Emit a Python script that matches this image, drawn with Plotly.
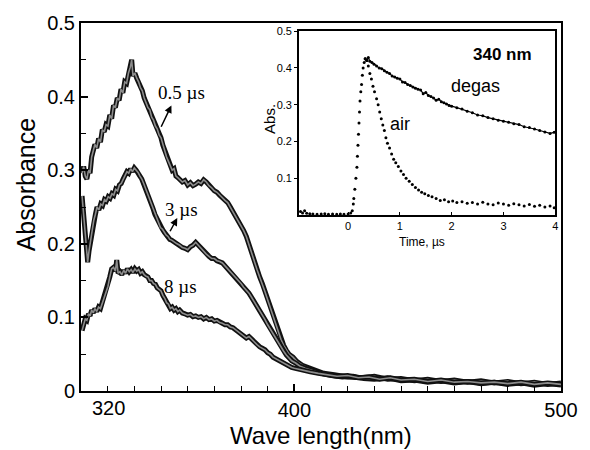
import plotly.graph_objects as go

# ---------------- main spectra (wavelength nm, absorbance) ----------------
wl_05 = [320.4, 321.0, 321.6, 322.2, 322.8, 323.4, 324.0, 324.6, 325.2, 325.9, 326.6, 327.3, 328.0, 328.7,
         329.4, 330.1, 330.8, 331.5, 332.2, 332.9, 333.6, 334.3, 335.0, 335.7, 336.4, 337.1, 337.8, 338.5,
         339.0, 339.5, 340.2, 340.9, 341.6, 342.3, 343.0, 343.7, 344.4, 345.1, 345.8, 346.5, 347.2, 347.9,
         348.6, 349.3, 350.0, 350.7, 351.4, 352.1, 352.8, 353.5, 354.2, 354.9, 355.6, 356.3, 357.0, 358.0,
         359.0, 360.0, 361.0, 362.0, 363.0, 364.0, 365.0, 366.0, 367.0, 368.0, 369.0, 370.0, 371.0, 372.0,
         373.0, 374.0, 375.0, 376.0, 377.0, 378.0, 379.0, 380.0, 381.0, 382.0, 383.0, 384.0, 385.0, 386.0,
         387.0, 388.0, 389.0, 390.0, 391.0, 392.0, 393.0, 394.0, 395.0, 396.0, 397.0, 398.0, 399.5, 401.0,
         403.0, 405.0, 408.0, 411.0, 415.0, 420.0, 425.0, 430.0, 435.0, 440.0, 445.0, 450.0, 455.0, 460.0,
         465.0, 470.0, 475.0, 480.0, 485.0, 490.0, 495.0, 500.0]
abs_05 = [0.296, 0.305, 0.292, 0.288, 0.300, 0.296, 0.318, 0.325, 0.335, 0.330, 0.343, 0.338, 0.355, 0.352,
          0.362, 0.360, 0.375, 0.370, 0.388, 0.385, 0.398, 0.395, 0.410, 0.405, 0.420, 0.418, 0.432, 0.440,
          0.450, 0.428, 0.432, 0.425, 0.420, 0.412, 0.408, 0.398, 0.392, 0.385, 0.382, 0.372, 0.368, 0.360,
          0.356, 0.348, 0.344, 0.334, 0.328, 0.318, 0.312, 0.306, 0.300, 0.302, 0.292, 0.290, 0.288, 0.284,
          0.286, 0.280, 0.283, 0.279, 0.281, 0.284, 0.282, 0.287, 0.284, 0.279, 0.276, 0.272, 0.270, 0.266,
          0.263, 0.259, 0.256, 0.250, 0.244, 0.238, 0.232, 0.226, 0.218, 0.210, 0.198, 0.188, 0.176, 0.165,
          0.155, 0.146, 0.135, 0.124, 0.113, 0.102, 0.090, 0.080, 0.070, 0.062, 0.055, 0.050, 0.046, 0.040,
          0.035, 0.032, 0.027, 0.024, 0.022, 0.019, 0.018, 0.020, 0.016, 0.017, 0.014, 0.016, 0.013, 0.015,
          0.012, 0.014, 0.011, 0.013, 0.010, 0.012, 0.009, 0.011]

wl_3 = [320.4, 321.0, 321.5, 322.0, 322.5, 323.0, 323.6, 324.2, 324.8, 325.4, 326.0, 326.7, 327.4, 328.1,
        328.8, 329.5, 330.2, 330.9, 331.6, 332.3, 333.0, 333.7, 334.4, 335.1, 335.8, 336.5, 337.2, 337.9,
        338.6, 339.3, 340.0, 340.7, 341.4, 342.1, 342.8, 343.5, 344.2, 344.9, 345.6, 346.3, 347.0, 347.7,
        348.4, 349.1, 349.8, 350.5, 351.2, 351.9, 352.6, 353.3, 354.0, 355.0, 356.0, 357.0, 358.0, 359.0,
        360.0, 361.0, 362.0, 363.0, 364.0, 365.0, 366.0, 367.0, 368.0, 369.0, 370.0, 371.0, 372.0, 373.0,
        374.0, 375.0, 376.0, 377.0, 378.0, 379.0, 380.0, 381.0, 382.0, 383.0, 384.0, 385.0, 386.0, 387.0,
        388.0, 389.0, 390.0, 391.0, 392.0, 393.0, 394.0, 395.0, 396.0, 397.0, 398.0, 399.0, 400.5, 402.0,
        404.0, 407.0, 410.0, 414.0, 418.0, 422.0, 426.0, 430.0, 435.0, 440.0, 445.0, 450.0, 455.0, 460.0,
        465.0, 470.0, 475.0, 480.0, 485.0, 490.0, 495.0, 500.0]
abs_3 = [0.265, 0.240, 0.215, 0.190, 0.175, 0.190, 0.205, 0.220, 0.232, 0.240, 0.250, 0.246, 0.254, 0.252,
         0.260, 0.258, 0.264, 0.262, 0.268, 0.266, 0.274, 0.272, 0.280, 0.282, 0.288, 0.292, 0.298, 0.296,
         0.302, 0.298, 0.303, 0.300, 0.297, 0.292, 0.288, 0.282, 0.276, 0.268, 0.262, 0.255, 0.248, 0.240,
         0.234, 0.228, 0.222, 0.220, 0.216, 0.212, 0.210, 0.206, 0.205, 0.202, 0.200, 0.198, 0.195, 0.194,
         0.192, 0.196, 0.198, 0.202, 0.198, 0.193, 0.190, 0.186, 0.183, 0.180, 0.180, 0.177, 0.176, 0.174,
         0.170, 0.166, 0.162, 0.159, 0.155, 0.150, 0.146, 0.141, 0.137, 0.133, 0.127, 0.121, 0.116, 0.110,
         0.103, 0.097, 0.090, 0.084, 0.078, 0.071, 0.065, 0.060, 0.054, 0.049, 0.045, 0.041, 0.038, 0.034,
         0.031, 0.027, 0.024, 0.021, 0.019, 0.020, 0.017, 0.016, 0.018, 0.014, 0.015, 0.012, 0.014, 0.011,
         0.013, 0.010, 0.012, 0.009, 0.011, 0.008, 0.010, 0.008]

wl_8 = [320.4, 321.0, 321.6, 322.2, 322.8, 323.4, 324.0, 324.6, 325.2, 325.9, 326.6, 327.3, 328.0, 328.7,
        329.4, 330.1, 330.8, 331.5, 332.2, 332.9, 333.4, 333.9, 334.6, 335.3, 336.0, 336.7, 337.4, 338.1,
        338.8, 339.5, 340.2, 340.9, 341.6, 342.3, 343.0, 343.7, 344.4, 345.1, 345.8, 346.5, 347.2, 347.9,
        348.6, 349.3, 350.0, 350.7, 351.4, 352.1, 352.8, 353.5, 354.2, 354.9, 355.6, 356.3, 357.0, 358.0,
        359.0, 360.0, 361.0, 362.0, 363.0, 364.0, 365.0, 366.0, 367.0, 368.0, 369.0, 370.0, 371.0, 372.0,
        373.0, 374.0, 375.0, 376.0, 377.0, 378.0, 379.0, 380.0, 381.0, 382.0, 383.0, 384.0, 385.0, 386.0,
        387.0, 388.0, 389.0, 390.0, 391.0, 392.0, 393.0, 394.0, 395.0, 396.0, 397.0, 398.0, 399.0, 400.0,
        402.0, 404.0, 406.0, 409.0, 412.0, 416.0, 420.0, 424.0, 428.0, 432.0, 436.0, 440.0, 445.0, 450.0,
        455.0, 460.0, 465.0, 470.0, 475.0, 480.0, 485.0, 490.0, 495.0, 500.0]
abs_8 = [0.082, 0.090, 0.098, 0.096, 0.105, 0.102, 0.110, 0.106, 0.112, 0.108, 0.114, 0.112, 0.120, 0.128,
         0.134, 0.142, 0.155, 0.166, 0.168, 0.163, 0.178, 0.160, 0.162, 0.158, 0.164, 0.160, 0.166, 0.162,
         0.165, 0.161, 0.166, 0.163, 0.165, 0.160, 0.162, 0.158, 0.156, 0.155, 0.150, 0.150, 0.146, 0.145,
         0.140, 0.138, 0.136, 0.130, 0.126, 0.120, 0.118, 0.112, 0.114, 0.110, 0.112, 0.108, 0.110, 0.106,
         0.105, 0.103, 0.104, 0.101, 0.102, 0.100, 0.101, 0.098, 0.100, 0.097, 0.098, 0.095, 0.096, 0.093,
         0.092, 0.090, 0.090, 0.087, 0.086, 0.083, 0.080, 0.077, 0.074, 0.072, 0.074, 0.070, 0.066, 0.063,
         0.060, 0.058, 0.056, 0.052, 0.050, 0.046, 0.044, 0.041, 0.039, 0.037, 0.035, 0.034, 0.032, 0.031,
         0.029, 0.027, 0.026, 0.024, 0.022, 0.020, 0.021, 0.018, 0.019, 0.016, 0.018, 0.015, 0.016, 0.013,
         0.015, 0.012, 0.013, 0.011, 0.012, 0.010, 0.012, 0.009, 0.011, 0.009]

# ---------------- inset kinetics at 340 nm (time us, absorbance) ----------------
t_air = [-0.92, -0.88, -0.84, -0.80, -0.74, -0.68, -0.60, -0.52, -0.45, -0.38, -0.30, -0.22, -0.15, -0.08,
         0.00, 0.05, 0.08, 0.10, 0.11, 0.13, 0.15, 0.17, 0.18, 0.19, 0.20, 0.21, 0.22, 0.23, 0.245, 0.26,
         0.275, 0.29, 0.31, 0.33, 0.36, 0.39, 0.42, 0.45, 0.48, 0.51, 0.55, 0.58, 0.61, 0.64, 0.67, 0.70,
         0.73, 0.76, 0.80, 0.84, 0.88, 0.92, 0.97, 1.02, 1.07, 1.12, 1.18, 1.24, 1.30, 1.36, 1.42, 1.48,
         1.55, 1.62, 1.70, 1.78, 1.86, 1.94, 2.02, 2.10, 2.20, 2.30, 2.40, 2.50, 2.60, 2.70, 2.80, 2.90,
         3.00, 3.10, 3.20, 3.30, 3.40, 3.50, 3.60, 3.70, 3.80, 3.90, 3.98]
a_air = [0.010, 0.006, 0.012, 0.005, 0.004, 0.003, 0.002, 0.003, 0.004, 0.002, 0.003, 0.002, 0.003, 0.002,
         0.003, 0.006, 0.012, 0.030, 0.045, 0.070, 0.100, 0.130, 0.160, 0.190, 0.220, 0.250, 0.280, 0.310,
         0.335, 0.355, 0.380, 0.400, 0.415, 0.425, 0.420, 0.405, 0.385, 0.370, 0.350, 0.335, 0.316, 0.300,
         0.280, 0.262, 0.245, 0.230, 0.210, 0.195, 0.182, 0.166, 0.152, 0.142, 0.132, 0.120, 0.110, 0.100,
         0.092, 0.083, 0.075, 0.068, 0.062, 0.058, 0.053, 0.050, 0.045, 0.040, 0.042, 0.036, 0.038, 0.034,
         0.036, 0.032, 0.034, 0.030, 0.035, 0.030, 0.028, 0.033, 0.030, 0.027, 0.031, 0.028, 0.025, 0.029,
         0.024, 0.027, 0.022, 0.025, 0.020]

t_degas = [0.33, 0.36, 0.39, 0.42, 0.46, 0.50, 0.55, 0.60, 0.65, 0.70, 0.75, 0.80, 0.85, 0.90, 0.95, 1.00,
           1.05, 1.10, 1.15, 1.20, 1.25, 1.30, 1.35, 1.40, 1.45, 1.50, 1.55, 1.60, 1.65, 1.70, 1.75, 1.80,
           1.85, 1.90, 1.95, 2.00, 2.10, 2.20, 2.30, 2.40, 2.50, 2.60, 2.70, 2.80, 2.90, 3.00, 3.10, 3.20,
           3.30, 3.40, 3.50, 3.60, 3.70, 3.80, 3.90, 3.98]
a_degas = [0.425, 0.420, 0.428, 0.418, 0.415, 0.410, 0.405, 0.400, 0.398, 0.392, 0.388, 0.385, 0.378, 0.375,
           0.372, 0.370, 0.362, 0.360, 0.355, 0.352, 0.348, 0.345, 0.342, 0.340, 0.330, 0.333, 0.325, 0.322,
           0.318, 0.312, 0.315, 0.308, 0.305, 0.302, 0.298, 0.296, 0.292, 0.288, 0.282, 0.278, 0.272, 0.270,
           0.265, 0.262, 0.258, 0.255, 0.252, 0.248, 0.246, 0.240, 0.238, 0.234, 0.230, 0.226, 0.222, 0.225]

main_xticks = [320, 400, 500]
main_xticktext = ["", "400", "500"]
main_yticks = [0, 0.1, 0.2, 0.3, 0.4, 0.5]
main_yticktext = ["0", "0.1", "0.2", "0.3", "0.4", "0.5"]
inset_xticks = [0, 1, 2, 3, 4]
inset_yticks = [0.1, 0.2, 0.3, 0.4, 0.5]

SANS = "Liberation Sans, Arial, sans-serif"
SERIF = "Liberation Serif, Times New Roman, serif"

fig = go.Figure()
for wl, ab in [(wl_05, abs_05), (wl_3, abs_3), (wl_8, abs_8)]:
    fig.add_trace(go.Scatter(x=wl, y=ab, mode="lines", line=dict(color="#111111", width=5),
                             showlegend=False, hoverinfo="skip"))
    fig.add_trace(go.Scatter(x=wl, y=ab, mode="lines", line=dict(color="#8c8c8c", width=1.6),
                             showlegend=False, hoverinfo="skip"))

fig.add_trace(go.Scatter(x=t_air, y=a_air, mode="markers", xaxis="x2", yaxis="y2",
                         marker=dict(color="black", size=3), showlegend=False))
fig.add_trace(go.Scatter(x=t_degas, y=a_degas, mode="lines+markers", xaxis="x2", yaxis="y2",
                         line=dict(color="black", width=1.2), marker=dict(color="black", size=3),
                         showlegend=False))

fig.update_layout(
    width=590, height=450,
    margin=dict(l=81, r=20, t=21, b=59),
    paper_bgcolor="white", plot_bgcolor="white",
    font=dict(family=SANS, color="black"),
    xaxis=dict(range=[320, 500], tickvals=main_xticks, ticktext=main_xticktext,
               showline=True, mirror=True, linecolor="black", linewidth=2,
               ticks="inside", ticklen=7, tickwidth=1.5, tickcolor="black",
               minor=dict(dtick=10, tick0=320, ticks="inside", ticklen=5, tickwidth=1.2, tickcolor="black"),
               showgrid=False, zeroline=False, tickfont=dict(size=20, family=SANS)),
    yaxis=dict(range=[0, 0.5], tickvals=main_yticks, ticktext=main_yticktext,
               showline=True, mirror=True, linecolor="black", linewidth=2,
               ticks="inside", ticklen=7, tickwidth=1.5, tickcolor="black",
               minor=dict(dtick=0.05, tick0=0, ticks="inside", ticklen=5, tickwidth=1.2, tickcolor="black"),
               showgrid=False, zeroline=False, tickfont=dict(size=20, family=SANS)),
    xaxis2=dict(domain=[0.454, 0.988], anchor="y2", range=[-0.95, 4], tickvals=inset_xticks,
                showline=True, mirror=True, linecolor="black", linewidth=1.5,
                ticks="inside", ticklen=3, tickwidth=1, tickcolor="black",
                showgrid=False, zeroline=False, tickfont=dict(size=11, family=SANS)),
    yaxis2=dict(domain=[0.478, 0.978], anchor="x2", range=[0, 0.5], tickvals=inset_yticks,
                showline=True, mirror=True, linecolor="black", linewidth=1.5,
                ticks="outside", ticklen=3, tickwidth=1, tickcolor="black",
                showgrid=False, zeroline=False, tickfont=dict(size=11, family=SANS)),
)

C = dict(xanchor="center", yanchor="middle", showarrow=False)
ann = []
# axis titles
ann.append(dict(text="Absorbance", xref="paper", yref="paper", x=-0.1145, y=0.559, textangle=-90,
                font=dict(size=25, family=SANS), **C))
ann.append(dict(text="Wave length(nm)", xref="paper", yref="paper", x=0.501, y=-0.12,
                font=dict(size=24, family=SANS), **C))
ann.append(dict(text="320", xref="x", yref="paper", x=320, xshift=27, y=-0.047,
                font=dict(size=20, family=SANS), **C))
# curve labels
ann.append(dict(text="0.5 µs", x=357.7, y=0.405, xref="x", yref="y", font=dict(size=19, family=SERIF), **C))
ann.append(dict(text="3 µs", x=357.5, y=0.247, xref="x", yref="y", font=dict(size=19, family=SERIF), **C))
ann.append(dict(text="8 µs", x=357.2, y=0.142, xref="x", yref="y", font=dict(size=19, family=SERIF), **C))
ann.append(dict(text="", x=353.9, y=0.388, ax=349.8, ay=0.357, xref="x", yref="y", axref="x", ayref="y",
                showarrow=True, arrowhead=2, arrowsize=1, arrowwidth=1.5, arrowcolor="black"))
ann.append(dict(text="", x=356.1, y=0.235, ax=353.1, ay=0.215, xref="x", yref="y", axref="x", ayref="y",
                showarrow=True, arrowhead=2, arrowsize=1, arrowwidth=1.5, arrowcolor="black"))
# inset texts
ann.append(dict(text="Abs.", xref="paper", yref="paper", x=0.3926, y=0.7405, textangle=-90,
                font=dict(size=15, family=SANS), **C))
ann.append(dict(text="Time, µs", xref="paper", yref="paper", x=0.7096, y=0.405,
                font=dict(size=12, family=SANS), **C))
ann.append(dict(text="<b>340 nm</b>", xref="paper", yref="paper", x=0.879, y=0.9135,
                font=dict(size=17, family=SANS), **C))
ann.append(dict(text="degas", xref="paper", yref="paper", x=0.822, y=0.8297,
                font=dict(size=18, family=SANS), **C))
ann.append(dict(text="air", xref="paper", yref="paper", x=0.6646, y=0.7243,
                font=dict(size=18, family=SANS), **C))
fig.update_layout(annotations=ann)

fig.write_html("out.html")
